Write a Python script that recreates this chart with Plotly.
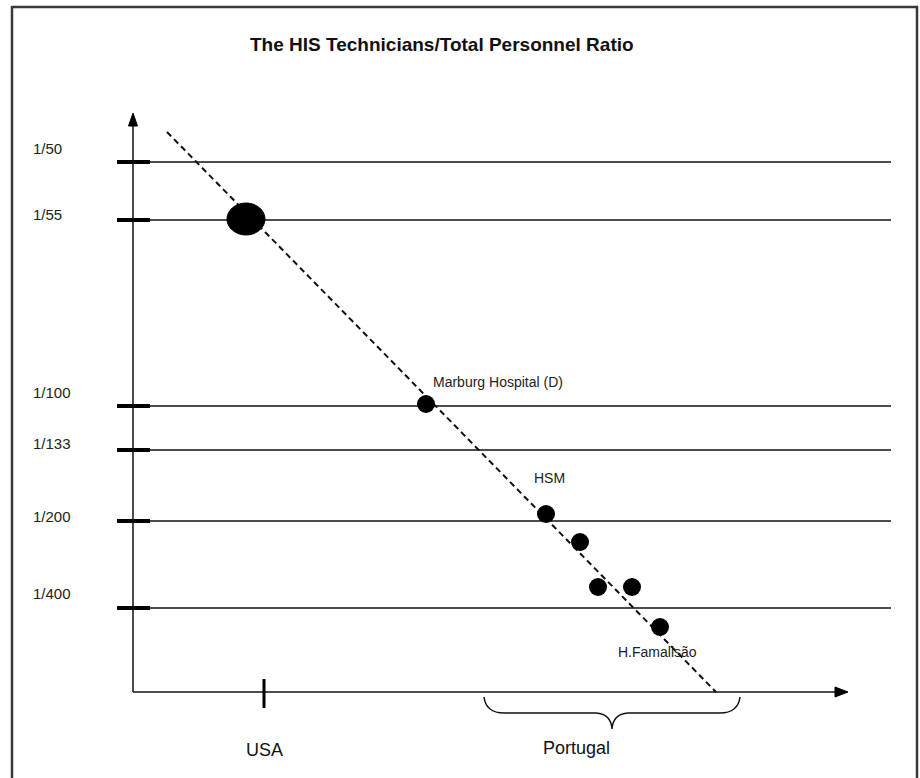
import plotly.graph_objects as go

# ---------------- data (schematic units: x to the right, y downward) ----------------
title_text = "The HIS Technicians/Total Personnel Ratio"

ratio_labels = ["1/50", "1/55", "1/100", "1/133", "1/200", "1/400"]
ratio_level = [162, 220, 406, 450, 521, 608]
ratio_label_y = [148, 214, 392, 443, 516, 593]

# hospitals (first one = USA, drawn as a big ellipse)
big_x, big_y = 246, 219
big_w, big_h = 38, 32

hosp_x = [426, 546, 580, 598, 632, 660]
hosp_y = [404, 514, 542, 587, 587, 627]

point_labels = ["Marburg Hospital (D)", "HSM", "H.Famalisão"]
point_label_x = [431, 549, 657]
point_label_y = [382, 478, 652]
point_label_anchor = ["left", "center", "center"]

trend_x = [167, 716]
trend_y = [132, 692]

# axes geometry
origin_x, origin_y = 133, 692
yaxis_top = 113
xaxis_right = 848
line_right = 891

group_labels = ["USA", "Portugal"]
group_label_x = [264, 576]
group_label_y = [750, 748]
usa_tick_x = 264
brace_left, brace_mid, brace_right = 484, 612, 740

FONT = "Liberation Sans, Arial, Helvetica, sans-serif"

fig = go.Figure()

# dashed trend line
fig.add_trace(go.Scatter(
    x=trend_x, y=trend_y, mode="lines",
    line=dict(color="#111111", width=2, dash="6px,4px"),
    hoverinfo="skip", showlegend=False))

# hospital points
fig.add_trace(go.Scatter(
    x=hosp_x, y=hosp_y, mode="markers",
    marker=dict(color="black", size=18, line=dict(width=0)),
    hoverinfo="skip", showlegend=False))

shapes = []
# frame
shapes.append(dict(type="rect", xref="x", yref="y", x0=12, x1=917, y0=7, y1=800,
                   line=dict(color="#3a3a3a", width=2.5), fillcolor="rgba(0,0,0,0)", layer="below"))
# horizontal level lines and tick marks
for lv in ratio_level:
    shapes.append(dict(type="line", xref="x", yref="y", x0=origin_x, x1=line_right, y0=lv, y1=lv,
                       line=dict(color="#111111", width=1.5), layer="below"))
    shapes.append(dict(type="line", xref="x", yref="y", x0=117, x1=150, y0=lv, y1=lv,
                       line=dict(color="black", width=4), layer="below"))
# axes
shapes.append(dict(type="line", xref="x", yref="y", x0=origin_x, x1=origin_x, y0=origin_y, y1=yaxis_top + 8,
                   line=dict(color="#111111", width=1.5)))
shapes.append(dict(type="line", xref="x", yref="y", x0=origin_x, x1=xaxis_right - 8, y0=origin_y, y1=origin_y,
                   line=dict(color="#111111", width=1.5)))
# arrowheads
shapes.append(dict(type="path", xref="x", yref="y",
                   path=f"M {origin_x} {yaxis_top} L {origin_x-4.5} {yaxis_top+13} L {origin_x+4.5} {yaxis_top+13} Z",
                   fillcolor="black", line=dict(color="black", width=1)))
shapes.append(dict(type="path", xref="x", yref="y",
                   path=f"M {xaxis_right} {origin_y} L {xaxis_right-13} {origin_y-5} L {xaxis_right-13} {origin_y+5} Z",
                   fillcolor="black", line=dict(color="black", width=1)))
# USA tick
shapes.append(dict(type="line", xref="x", yref="y", x0=usa_tick_x, x1=usa_tick_x, y0=679, y1=708,
                   line=dict(color="black", width=3)))
# big ellipse (USA)
shapes.append(dict(type="circle", xref="x", yref="y",
                   x0=big_x - big_w / 2, x1=big_x + big_w / 2,
                   y0=big_y - big_h / 2, y1=big_y + big_h / 2,
                   fillcolor="black", line=dict(color="black", width=1)))
# brace under Portugal
bl, bm, br = brace_left, brace_mid, brace_right
brace_path = (f"M {bl} 697 Q {bl+2} 713 {bl+20} 713 L {bm-16} 713 Q {bm-1} 714 {bm} 729 "
              f"Q {bm+1} 714 {bm+16} 713 L {br-20} 713 Q {br-2} 713 {br} 697")
shapes.append(dict(type="path", xref="x", yref="y", path=brace_path,
                   line=dict(color="#111111", width=1.5)))

annotations = []
annotations.append(dict(x=442, y=44, xref="x", yref="y", text=f"<b>{title_text}</b>", showarrow=False,
                        font=dict(family=FONT, size=19, color="#111111"), xanchor="center", yanchor="middle"))
for lab, ly in zip(ratio_labels, ratio_label_y):
    annotations.append(dict(x=31, y=ly, xref="x", yref="y", text=lab, showarrow=False,
                            font=dict(family=FONT, size=15, color="#222222"), xanchor="left", yanchor="middle"))
for lab, lx, ly, anc in zip(point_labels, point_label_x, point_label_y, point_label_anchor):
    annotations.append(dict(x=lx, y=ly, xref="x", yref="y", text=lab, showarrow=False,
                            font=dict(family=FONT, size=14, color="#222222"), xanchor=anc, yanchor="middle"))
for lab, lx, ly in zip(group_labels, group_label_x, group_label_y):
    annotations.append(dict(x=lx, y=ly, xref="x", yref="y", text=lab, showarrow=False,
                            font=dict(family=FONT, size=18, color="#111111"), xanchor="center", yanchor="middle"))

fig.update_layout(
    width=920, height=778,
    margin=dict(l=0, r=0, t=0, b=0),
    paper_bgcolor="white", plot_bgcolor="white",
    xaxis=dict(range=[0, 920], visible=False, fixedrange=True),
    yaxis=dict(range=[778, 0], visible=False, fixedrange=True),
    shapes=shapes, annotations=annotations,
    showlegend=False,
)

fig.write_html("out.html", config={"displayModeBar": False},
               post_script="document.body.style.margin='0px';document.body.style.padding='0px';")
